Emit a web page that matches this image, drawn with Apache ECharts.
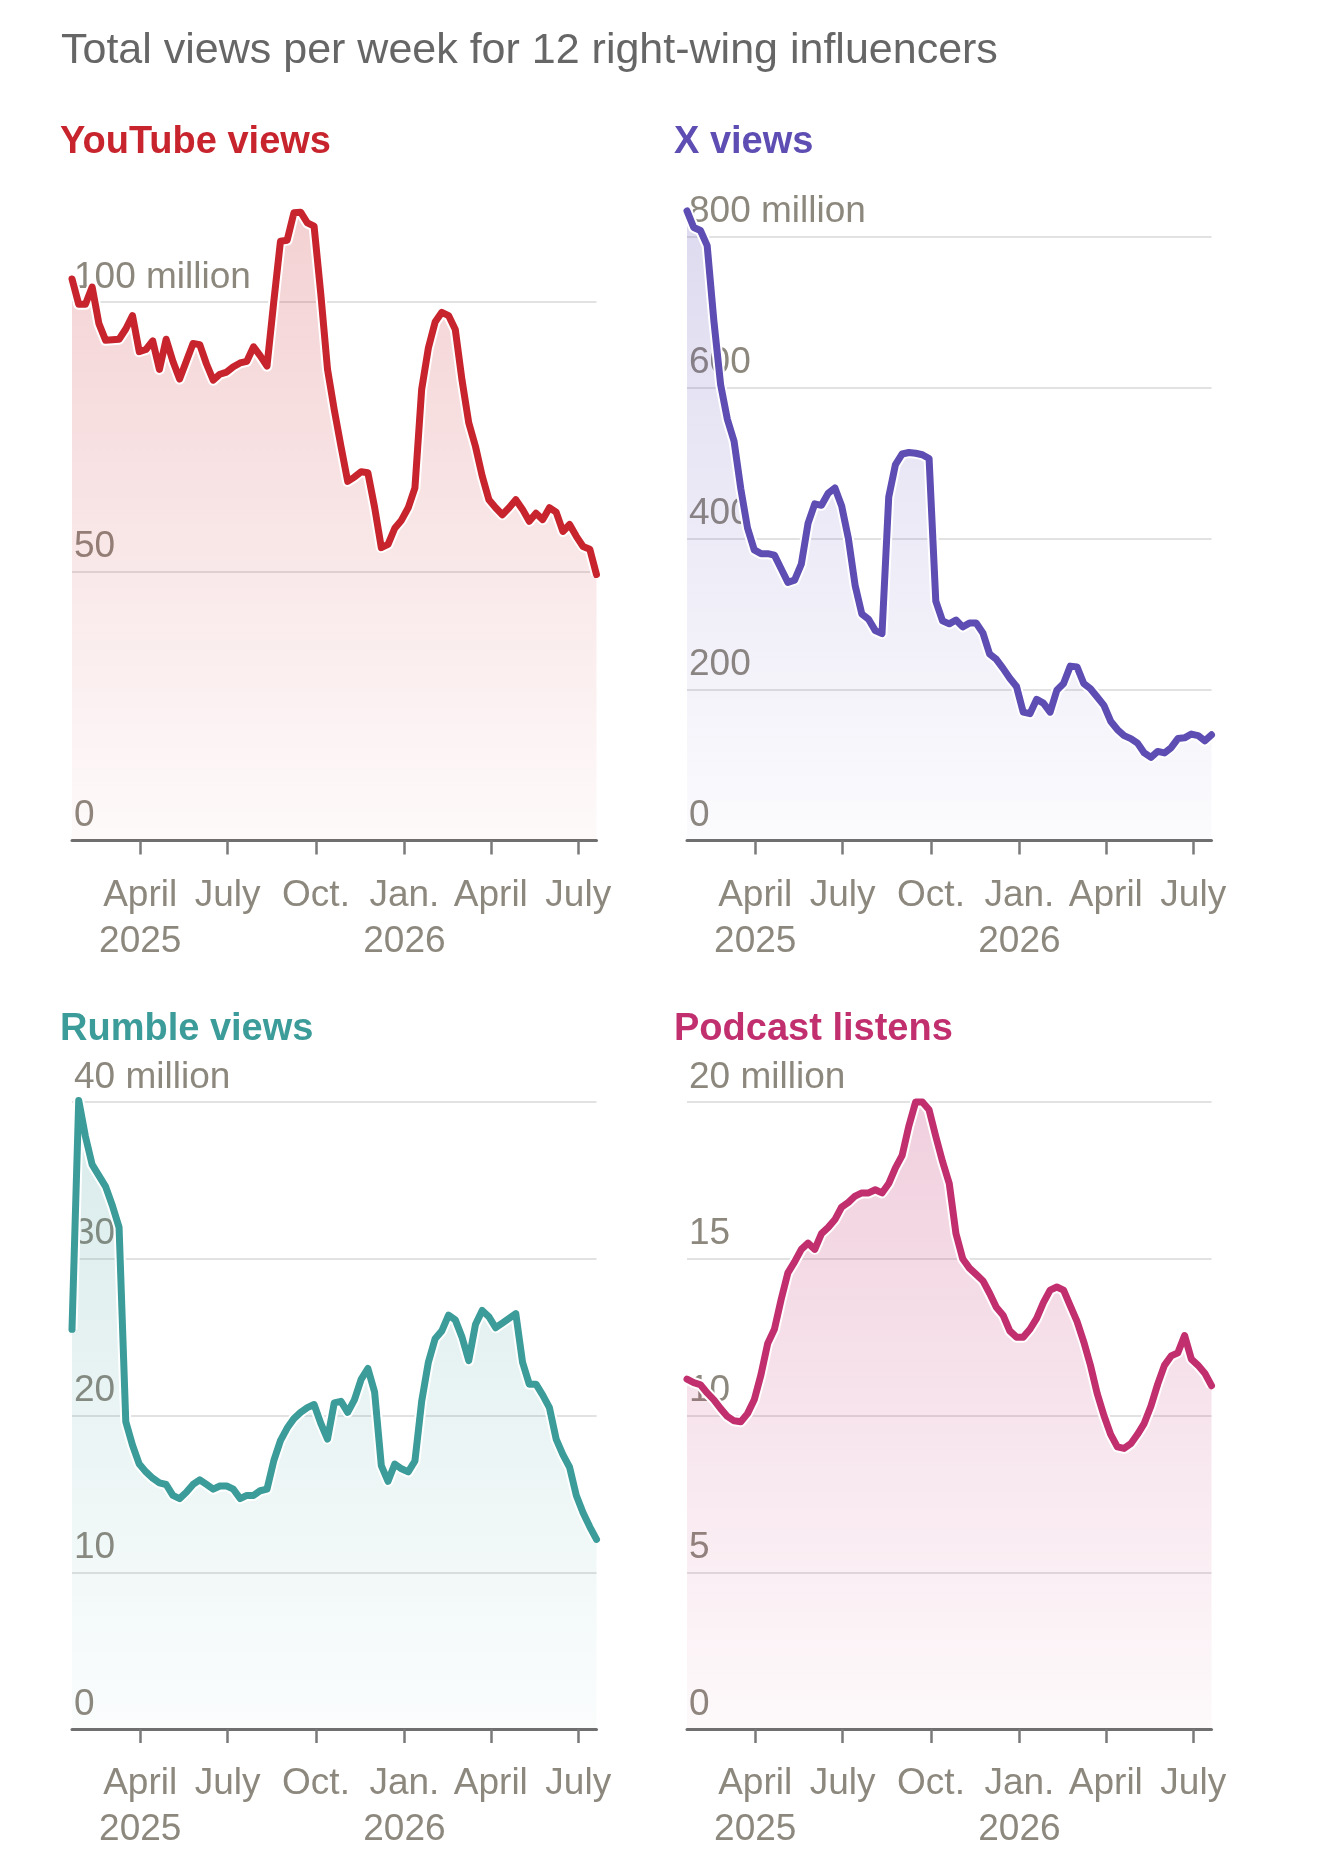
<!DOCTYPE html>
<html lang="en">
<head>
<meta charset="UTF-8">
<title>Views per week</title>
<style>
    * { padding: 0; margin: 0; }
    body { background: #fff; }
    .EC { width: 1320px; height: 1864px; }
</style>
</head>
<body>
<div class="EC"></div>
<script src="https://cdn.jsdelivr.net/npm/echarts@6/dist/echarts.min.js"></script>
<script>
// weekly totals, first week starting 2025-01-20
const youtube = [104.3, 99.6, 99.6, 102.8, 96, 92.9, 93.0, 93.1, 95, 97.5, 90.8, 91.2, 92.8, 87.5, 93.1, 89, 85.7, 89, 92.3, 92.1,
    88.5, 85.5, 86.6, 87, 88, 88.7, 89, 91.7, 90, 88.1, 100, 111.3, 111.5, 116.6, 116.7, 114.7, 114.1, 101.5, 87.5, 80,
    73.2, 66.7, 67.5, 68.5, 68.3, 61.9, 54.4, 55.0, 58, 59.5, 61.8, 65.5, 83.8, 91.5, 96.3, 98.1, 97.5, 94.9, 85.5, 77.6,
    73.2, 67.7, 63.3, 61.8, 60.5, 61.8, 63.3, 61.5, 59.3, 60.8, 59.6, 61.8, 61, 57.4, 58.7, 56.5, 54.6, 54.1, 49.4]
const xViews = [834, 812, 808, 788, 688, 604, 558, 529, 466, 414, 385, 380, 380, 378, 360, 342, 345, 366, 420, 446,
    444, 460, 467, 443, 400, 338, 300, 293, 278, 274, 455, 498, 512, 514, 513, 511, 506, 317, 291, 287,
    292, 283, 288, 288, 275, 247, 240, 228, 215, 204, 170, 168, 187, 182, 170, 199, 208, 231, 230, 208,
    201, 190, 179, 158, 147, 139, 135, 129, 116, 110, 118, 116, 123, 135, 136, 141, 139, 132, 140]
const rumble = [25.5, 40.1, 37.8, 36, 35.3, 34.6, 33.4, 32, 19.6, 18.1, 16.9, 16.4, 16.0, 15.7, 15.6, 14.9, 14.7, 15.1, 15.6, 15.9,
    15.6, 15.3, 15.5, 15.5, 15.3, 14.7, 14.9, 14.9, 15.2, 15.3, 17.1, 18.4, 19.2, 19.8, 20.2, 20.5, 20.7, 19.5, 18.5, 20.8,
    20.9, 20.2, 21, 22.3, 23, 21.5, 16.8, 15.8, 16.9, 16.6, 16.4, 17.1, 20.9, 23.4, 24.9, 25.4, 26.4, 26.1, 25, 23.5,
    25.8, 26.7, 26.3, 25.6, 25.9, 26.2, 26.5, 23.4, 22, 22, 21.3, 20.5, 18.5, 17.5, 16.7, 14.9, 13.8, 12.9, 12.1]
const podcast = [11.16, 11.05, 10.98, 10.72, 10.5, 10.22, 9.97, 9.83, 9.8, 10.06, 10.5, 11.3, 12.3, 12.75, 13.7, 14.55, 14.9, 15.3, 15.5, 15.3,
    15.8, 16.0, 16.25, 16.65, 16.8, 17.0, 17.1, 17.1, 17.2, 17.1, 17.4, 17.9, 18.3, 19.24, 20.0, 20.0, 19.75, 18.9, 18.1, 17.4,
    15.8, 15.0, 14.7, 14.5, 14.3, 13.9, 13.45, 13.2, 12.7, 12.5, 12.5, 12.75, 13.1, 13.6, 14.0, 14.1, 14.0, 13.5, 13.0, 12.35,
    11.6, 10.7, 10.0, 9.4, 9.0, 8.95, 9.1, 9.4, 9.75, 10.3, 11.0, 11.6, 11.9, 12.0, 12.55, 11.8, 11.6, 11.35, 10.95]

const tickDates = [Date.UTC(2025, 3, 1), Date.UTC(2025, 6, 1), Date.UTC(2025, 9, 1),
    Date.UTC(2026, 0, 1), Date.UTC(2026, 3, 1), Date.UTC(2026, 6, 1)]
const tickLabels = ['April\n2025', 'July', 'Oct.', 'Jan.\n2026', 'April', 'July']

const DAY = 864e5
const start = Date.UTC(2025, 0, 20)
const end = Date.UTC(2026, 6, 20)
const weeks = youtube.map((_, i) => start + i * 7 * DAY)

const FONT = 'Liberation Sans'
const LABEL = '#8d887e'

// one panel = grid + axes + halo/area series + line series
const panels = [
    { name: 'YouTube views', data: youtube, color: '#c8242d', fill: [201, 37, 45], alpha: [0.3, 0.03],
      left: 72, axisY: 840.5, pxPerUnit: 5.384, max: 125, step: 50, topLabel: 100, titleX: 60, titleY: 124 },
    { name: 'X views', data: xViews, color: '#5e4db2', fill: [96, 80, 182], alpha: [0.3, 0.03],
      left: 687, axisY: 840.5, pxPerUnit: 0.7549, max: 860, step: 200, topLabel: 800, titleX: 674, titleY: 124 },
    { name: 'Rumble views', data: rumble, color: '#3b9c99', fill: [58, 154, 152], alpha: [0.28, 0.03],
      left: 72, axisY: 1729, pxPerUnit: 15.675, max: 42, step: 10, topLabel: 40, titleX: 60, titleY: 1011 },
    { name: 'Podcast listens', data: podcast, color: '#c12f6f', fill: [192, 48, 110], alpha: [0.33, 0.04],
      left: 687, axisY: 1729, pxPerUnit: 31.35, max: 21, step: 5, topLabel: 20, titleX: 674, titleY: 1011 }
]

const EC = echarts.init(document.querySelector('.EC'))
const grid = [], xAxis = [], yAxis = [], series = []
const title = [{
    text: 'Total views per week for 12 right-wing influencers',
    left: 61, top: 30, padding: 0,
    textStyle: { fontFamily: FONT, fontSize: 43, fontWeight: 'normal', color: '#666' }
}]

panels.forEach((p, k) => {
    const height = p.max * p.pxPerUnit
    grid.push({ left: p.left, width: 524.5, top: p.axisY - height, height: height })
    title.push({
        text: p.name, left: p.titleX, top: p.titleY, padding: 0,
        textStyle: { fontFamily: FONT, fontSize: 38, fontWeight: 'bold', color: p.color }
    })
    xAxis.push({
        type: 'value', gridIndex: k, min: start, max: end,
        axisLine: { show: true, onZero: false, lineStyle: { color: '#6f6f6f', width: 3 } },
        axisTick: { show: true, customValues: tickDates, length: 14, lineStyle: { color: '#7a7a7a', width: 2.5 } },
        axisLabel: {
            customValues: tickDates, margin: 32,
            fontFamily: FONT, fontSize: 37, lineHeight: 46, color: LABEL, align: 'center',
            formatter: v => tickLabels[tickDates.indexOf(v)] || ''
        },
        splitLine: { show: false }
    })
    yAxis.push({
        type: 'value', gridIndex: k, min: 0, max: p.max, interval: p.step,
        axisLine: { show: false }, axisTick: { show: false },
        axisLabel: {
            inside: true, margin: 2, verticalAlign: 'bottom', padding: [0, 0, 6, 0],
            fontFamily: FONT, fontSize: 37, color: LABEL, showMaxLabel: false,
            formatter: v => v % p.step ? '' : (v === p.topLabel ? v + ' million' : String(v))
        },
        splitLine: { show: true, showMinLine: false, showMaxLine: false, lineStyle: { color: '#e2e2e2', width: 2 } }
    })
    const pts = p.data.map((v, i) => [weeks[i], v])
    const rgba = a => 'rgba(' + p.fill.join(',') + ',' + a + ')'
    series.push({
        type: 'line', xAxisIndex: k, yAxisIndex: k, data: pts, symbol: 'none', silent: true,
        lineStyle: { color: '#fff', width: 11, join: 'round' },
        areaStyle: {
            color: new echarts.graphic.LinearGradient(0, 0, 0, 1, [
                { offset: 0, color: rgba(p.alpha[0]) },
                { offset: 1, color: rgba(p.alpha[1]) }
            ])
        },
        z: 2
    })
    series.push({
        type: 'line', xAxisIndex: k, yAxisIndex: k, data: pts, symbol: 'none', silent: true,
        lineStyle: { color: p.color, width: 7, join: 'round', cap: 'round' },
        z: 3
    })
})

EC.setOption({ animation: false, backgroundColor: '#fff', title, grid, xAxis, yAxis, series })
</script>
</body>
</html>
